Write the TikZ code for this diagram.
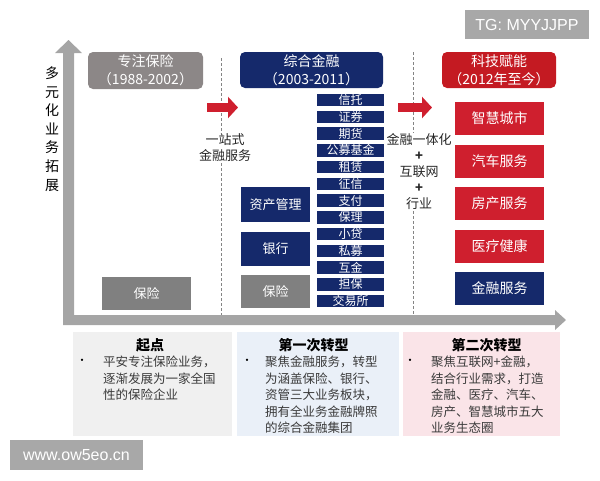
\documentclass[tikz,border=0pt]{standalone}
\usepackage{fontspec}
\setmainfont{Noto Sans CJK SC}
\newfontfamily\cjk{Noto Sans CJK SC}
\newfontfamily\wmfont{Liberation Sans}
\usetikzlibrary{calc, positioning, arrows.meta}
\definecolor{navy}{HTML}{15296B}
\definecolor{appred}{HTML}{CF1F2E}
\definecolor{headred}{HTML}{C41A22}
\definecolor{headgray}{HTML}{8C8787}
\definecolor{boxgray}{HTML}{808080}
\definecolor{axisgray}{HTML}{A5A5A5}
\definecolor{wmgray}{HTML}{A8A8A8}
\definecolor{notegray}{HTML}{F0F0F0}
\definecolor{noteblue}{HTML}{EAF0F8}
\definecolor{notepink}{HTML}{FAE4E8}
\definecolor{inktext}{HTML}{3A3A3A}
\tikzstyle{header}=[rounded corners=5pt, text=white, align=center, minimum height=36pt, inner sep=0pt, font=\cjk\fontsize{14}{18}\selectfont]
\tikzstyle{stackbox}=[fill=navy, text=white, minimum width=67pt, minimum height=12.5pt, inner sep=0pt, font=\cjk\fontsize{12}{12}\selectfont]
\tikzstyle{bigbox}=[fill=navy, text=white, minimum width=69pt, minimum height=34pt, inner sep=0pt, font=\cjk\fontsize{13}{13}\selectfont]
\tikzstyle{appbox}=[fill=appred, text=white, minimum width=89pt, minimum height=33pt, inner sep=0pt, font=\cjk\fontsize{14}{14}\selectfont]
\tikzstyle{steplabel}=[align=center, text=black!85, inner sep=1pt, font=\cjk\fontsize{13}{16}\selectfont]
\tikzstyle{divider}=[axisgray!80!black, dashed, line width=0.8pt, dash pattern=on 3pt off 2pt]
\tikzstyle{bigarrow}=[appred, line width=9pt, -{Triangle[width=21pt, length=10pt]}]
\tikzstyle{note}=[minimum height=104pt, inner sep=0pt]
\tikzstyle{notetitle}=[text=black, inner sep=0pt, font=\cjk\bfseries\fontsize{14}{14}\selectfont]
\tikzstyle{notebody}=[text=inktext, align=left, inner sep=0pt, anchor=north west, font=\cjk\fontsize{12.5}{16.5}\selectfont]
\tikzstyle{wmbox}=[fill=wmgray, text=white, inner sep=0pt, font=\wmfont\fontsize{16}{16}\selectfont]

\begin{document}
\begin{tikzpicture}[x=1pt, y=-1pt]
		\useasboundingbox (0,0) rectangle (600,480);
		% Draw the two axes as one gray shape
		\fill[axisgray] (63,325) -- (63,53) -- (55,53) -- (68.5,40) -- (82,53) -- (74,53) -- (74,315)
		-- (555,315) -- (555,310) -- (566,320) -- (555,330) -- (555,325) -- cycle;
		\node[align=center, inner sep=0pt, font=\cjk\fontsize{14}{18.6}\selectfont] (Ax) at (52,129) {多\\元\\化\\业\\务\\拓\\展};
		% Dividers between the three stages
		\node[steplabel] (L-1) at (225,148) {一站式\\金融服务};
		\node[steplabel] (L-2) at (419,171.5) {金融一体化\\\textbf{+}\\互联网\\\textbf{+}\\行业};
		\coordinate (D1-top) at (221,58);
		\coordinate (D1-bot) at (221,315);
		\coordinate (D2-top) at (413,52);
		\coordinate (D2-bot) at (413,315);
		\draw[divider] (D1-top) -- (D1-top |- L-1.north);
		\draw[divider] (D1-bot |- L-1.south) -- (D1-bot);
		\draw[divider] (D2-top) -- (D2-top |- L-2.north);
		\draw[divider] (D2-bot |- L-2.south) -- (D2-bot);
		% Stage headers
		\node[header, fill=headgray, minimum width=115pt, minimum height=37pt] (H-1) at (145.5,70.5) {专注保险\\（1988-2002）};
		\node[header, fill=navy, minimum width=143pt] (H-2) at (311.5,70) {综合金融\\（2003-2011）};
		\node[header, fill=headred, minimum width=114pt] (H-3) at (499,70) {科技赋能\\（2012年至今）};
		% Arrows from one stage to the next
		\coordinate (A1-s) at (207,107.5);
		\coordinate (A1-e) at (238,107.5);
		\coordinate (A2-s) at (398,107.5);
		\coordinate (A2-e) at (432,107.5);
		\draw[bigarrow] (A1-s) -- (A1-e);
		\draw[bigarrow] (A2-s) -- (A2-e);
		% First stage
		\node[bigbox, fill=boxgray, minimum width=89pt, minimum height=33pt] (B-1) at (146.5,293.5) {保险};
		% Second stage
		\node[bigbox, minimum height=35pt] (B-2) at (275.5,204.5) {资产管理};
		\node[bigbox] (B-3) at (275.5,249) {银行};
		\node[bigbox, fill=boxgray, minimum height=33pt] (B-4) at (275.5,291.5) {保险};
		\foreach \txt [count=\i] in {信托,证券,期货,公募基金,租赁,征信,支付,保理,小贷,私募,互金,担保,交易所}
		\node[stackbox] (S-\i) at (350.5,{100+16.75*(\i-1)}) {\txt};
		% Third stage
		\foreach \txt [count=\i] in {智慧城市,汽车服务,房产服务,医疗健康}
		\node[appbox] (R-\i) at (499.5,{118.5+42.5*(\i-1)}) {\txt};
		\node[appbox, fill=navy] (R-5) at (499.5,288.5) {金融服务};
		% Notes under the axis
		\node[note, fill=notegray, minimum width=159pt] (N-1) at (152.5,384) {};
		\node[note, fill=noteblue, minimum width=162pt] (N-2) at (318,384) {};
		\node[note, fill=notepink, minimum width=157pt] (N-3) at (481.5,384) {};
		\node[notetitle] (T-1) at (150,345) {起点};
		\node[notetitle] (T-2) at (313.5,345) {第一次转型};
		\node[notetitle] (T-3) at (486.5,345) {第二次转型};
		\foreach \x / \name in {82/1, 247/2, 410/3}
		\node[text=black, inner sep=0pt, font=\fontsize{11}{11}\selectfont] (Dot-\name) at (\x,362) {•};
		\node[notebody] (P-1) at (103,355.8) {平安专注保险业务，\\逐渐发展为一家全国\\性的保险企业};
		\node[notebody] (P-2) at (265,355.8) {聚焦金融服务，转型\\为涵盖保险、银行、\\资管三大业务板块，\\拥有全业务金融牌照\\的综合金融集团};
		\node[notebody] (P-3) at (431,355.8) {聚焦互联网+金融，\\结合行业需求，打造\\金融、医疗、汽车、\\房产、智慧城市五大\\业务生态圈};
		% Marks on the picture
		\node[wmbox, minimum width=124pt, minimum height=29pt] (TG) at (527,24.5) {TG: MYYJJPP};
		\node[wmbox, minimum width=133pt, minimum height=30pt] (Web) at (76.5,455) {www.ow5eo.cn};
	\end{tikzpicture}
\end{document}
